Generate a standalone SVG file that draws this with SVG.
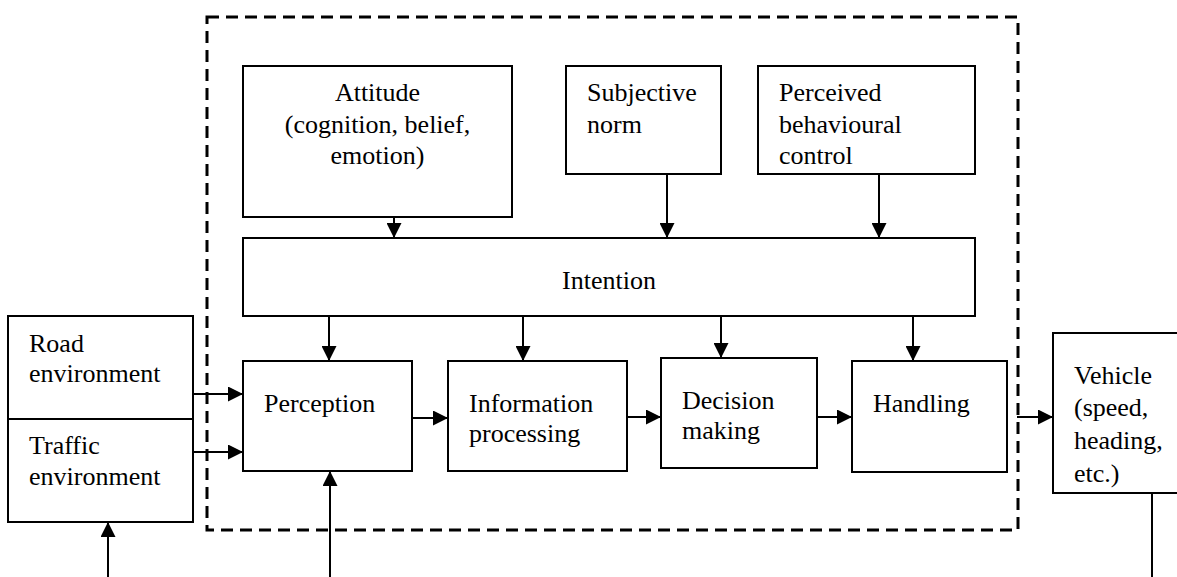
<svg xmlns="http://www.w3.org/2000/svg" width="1177" height="577" viewBox="0 0 1177 577">
  <defs>
    <marker id="arr" markerUnits="userSpaceOnUse" markerWidth="15" markerHeight="15" refX="15" refY="7.5" orient="auto">
      <path d="M0,0 L15,7.5 L0,15 z" fill="#000"/>
    </marker>
    <style>
      .box { fill: #fff; stroke: #000; stroke-width: 2; }
      .t { font-family: 'Liberation Serif', 'Times New Roman', serif; font-size: 26px; fill: #000; }
      .c { text-anchor: middle; }
      .ln { stroke: #000; stroke-width: 2; fill: none; }
      .a { stroke: #000; stroke-width: 2; fill: none; marker-end: url(#arr); }
    </style>
  </defs>
  <rect width="1177" height="577" fill="#fff"/>

  <g id="boundary">
    <rect x="207" y="17" width="811" height="513" fill="none" stroke="#000" stroke-width="3" stroke-dasharray="12 7"/>
  </g>

  <g id="road">
    <rect class="box" x="8" y="316" width="185" height="103"/>
    <text class="t" x="29" y="352">Road</text>
    <text class="t" x="29" y="382">environment</text>
  </g>
  <g id="traffic">
    <rect class="box" x="8" y="419" width="185" height="103"/>
    <text class="t" x="29" y="454">Traffic</text>
    <text class="t" x="29" y="485">environment</text>
  </g>
  <g id="attitude">
    <rect class="box" x="243" y="66" width="269" height="151"/>
    <text class="t c" x="377.5" y="101">Attitude</text>
    <text class="t c" x="377.5" y="133">(cognition, belief,</text>
    <text class="t c" x="377.5" y="164">emotion)</text>
  </g>
  <g id="subjective">
    <rect class="box" x="566" y="66" width="155" height="108"/>
    <text class="t" x="587" y="101">Subjective</text>
    <text class="t" x="587" y="133">norm</text>
  </g>
  <g id="perceived">
    <rect class="box" x="758" y="66" width="217" height="108"/>
    <text class="t" x="779" y="101">Perceived</text>
    <text class="t" x="779" y="133">behavioural</text>
    <text class="t" x="779" y="164">control</text>
  </g>
  <g id="intention">
    <rect class="box" x="243" y="238" width="732" height="78"/>
    <text class="t c" x="609" y="289">Intention</text>
  </g>
  <g id="perception">
    <rect class="box" x="243" y="361" width="169" height="110"/>
    <text class="t" x="264" y="412">Perception</text>
  </g>
  <g id="information">
    <rect class="box" x="448" y="361" width="179" height="110"/>
    <text class="t" x="469" y="412">Information</text>
    <text class="t" x="469" y="442">processing</text>
  </g>
  <g id="decision">
    <rect class="box" x="661" y="358" width="156" height="110"/>
    <text class="t" x="682" y="409">Decision</text>
    <text class="t" x="682" y="439">making</text>
  </g>
  <g id="handling">
    <rect class="box" x="852" y="361" width="155" height="111"/>
    <text class="t" x="873" y="412">Handling</text>
  </g>
  <g id="vehicle">
    <rect class="box" x="1053" y="333" width="130" height="160"/>
    <text class="t" x="1074" y="384">Vehicle</text>
    <text class="t" x="1074" y="416">(speed,</text>
    <text class="t" x="1074" y="449">heading,</text>
    <text class="t" x="1074" y="482">etc.)</text>
  </g>

  <g id="connectors">
    <line class="a" x1="394" y1="217" x2="394" y2="238"/>
    <line class="a" x1="667" y1="174" x2="667" y2="238"/>
    <line class="a" x1="879" y1="174" x2="879" y2="238"/>
    <line class="a" x1="329" y1="316" x2="329" y2="361"/>
    <line class="a" x1="523" y1="316" x2="523" y2="361"/>
    <line class="a" x1="721" y1="316" x2="721" y2="358"/>
    <line class="a" x1="913" y1="316" x2="913" y2="361"/>
    <line class="a" x1="193" y1="394" x2="243" y2="394"/>
    <line class="a" x1="193" y1="452" x2="243" y2="452"/>
    <line class="a" x1="412" y1="418" x2="448" y2="418"/>
    <line class="a" x1="627" y1="417" x2="661" y2="417"/>
    <line class="a" x1="817" y1="417" x2="852" y2="417"/>
    <line class="a" x1="1017" y1="417" x2="1053" y2="417"/>
    <line class="a" x1="108" y1="577" x2="108" y2="522"/>
    <line class="a" x1="330" y1="577" x2="330" y2="471"/>
    <line class="ln" x1="1152" y1="493" x2="1152" y2="577"/>
  </g>
</svg>
